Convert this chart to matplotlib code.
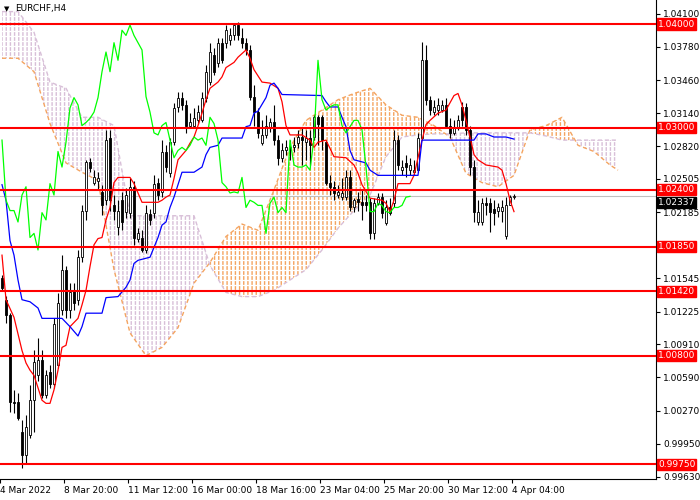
import numpy as np
import matplotlib
matplotlib.use('Agg')
import matplotlib.pyplot as plt
from matplotlib.path import Path

# EURCHF H4 candles (open, high, low, close)
opens = [1.0155, 1.0134, 1.0119, 1.0035, 1.0035, 1.0006, 0.9984, 1.0003, 1.0037, 1.0061,
         1.0076, 1.0042, 1.0064, 1.0053, 1.0071, 1.0124, 1.0163, 1.0124, 1.0143, 1.0134,
         1.0175, 1.0220, 1.0267, 1.0247, 1.0249, 1.0238, 1.0230, 1.0290, 1.0225, 1.0204,
         1.0230, 1.0219, 1.0218, 1.0243, 1.0193, 1.0194, 1.0182, 1.0217, 1.0218, 1.0247,
         1.0238, 1.0277, 1.0256, 1.0286, 1.0320, 1.0329, 1.0322, 1.0302, 1.0302, 1.0307,
         1.0307, 1.0329, 1.0344, 1.0370, 1.0362, 1.0382, 1.0382, 1.0385, 1.0389, 1.0399,
         1.0387, 1.0382, 1.0375, 1.0330, 1.0315, 1.0285, 1.0293, 1.0300, 1.0305, 1.0288,
         1.0271, 1.0278, 1.0281, 1.0281, 1.0285, 1.0291, 1.0286, 1.0290, 1.0291, 1.0310,
         1.0310, 1.0286, 1.0247, 1.0243, 1.0235, 1.0233, 1.0233, 1.0252, 1.0223, 1.0231,
         1.0228, 1.0228, 1.0228, 1.0198, 1.0227, 1.0233, 1.0208, 1.0223, 1.0227, 1.0288,
         1.0259, 1.0266, 1.0259, 1.0257, 1.0259, 1.0290, 1.0365, 1.0327, 1.0315, 1.0317,
         1.0317, 1.0322, 1.0302, 1.0295, 1.0301, 1.0320, 1.0320, 1.0298, 1.0262, 1.0209,
         1.0209, 1.0227, 1.0227, 1.0222, 1.0220, 1.0220, 1.0195, 1.0225, 1.0233]
highs = [1.0158, 1.0138, 1.0121, 1.0047, 1.0044, 1.0018, 1.0023, 1.0052, 1.0085, 1.0097,
         1.0085, 1.0066, 1.0071, 1.0116, 1.0140, 1.0177, 1.0167, 1.0150, 1.0150, 1.0182,
         1.0225, 1.0269, 1.0271, 1.0259, 1.0257, 1.0245, 1.0298, 1.0298, 1.0235, 1.0230,
         1.0238, 1.0242, 1.0251, 1.0249, 1.0203, 1.0201, 1.0225, 1.0222, 1.0254, 1.0251,
         1.0288, 1.0283, 1.0290, 1.0324, 1.0334, 1.0334, 1.0327, 1.0314, 1.0319, 1.0322,
         1.0334, 1.0360, 1.0382, 1.0377, 1.0387, 1.0387, 1.0399, 1.0396, 1.0401, 1.0402,
         1.0396, 1.0387, 1.0380, 1.0341, 1.0319, 1.0307, 1.0312, 1.0309, 1.0322, 1.0293,
         1.0285, 1.0288, 1.0288, 1.0291, 1.0298, 1.0300, 1.0298, 1.0298, 1.0312, 1.0312,
         1.0312, 1.0288, 1.0254, 1.0249, 1.0245, 1.0251, 1.0259, 1.0259, 1.0232, 1.0238,
         1.0240, 1.0235, 1.0232, 1.0232, 1.0237, 1.0237, 1.0230, 1.0232, 1.0298, 1.0293,
         1.0269, 1.0274, 1.0271, 1.0269, 1.0295, 1.0383, 1.0380, 1.0331, 1.0327, 1.0329,
         1.0327, 1.0329, 1.0309, 1.0307, 1.0312, 1.0325, 1.0324, 1.0302, 1.0269, 1.0230,
         1.0232, 1.0233, 1.0232, 1.0230, 1.0227, 1.0230, 1.0233, 1.0235, 1.0236]
lows = [1.0143, 1.0112, 1.0026, 1.0025, 1.0018, 0.9972, 0.9976, 1.0001, 1.0006, 1.0056,
        1.0039, 1.0039, 1.0049, 1.0049, 1.0068, 1.0119, 1.0116, 1.0116, 1.0124, 1.0129,
        1.0170, 1.0211, 1.0257, 1.0245, 1.0240, 1.0216, 1.0225, 1.0220, 1.0211, 1.0196,
        1.0201, 1.0213, 1.0213, 1.0187, 1.0190, 1.0180, 1.0179, 1.0206, 1.0213, 1.0230,
        1.0233, 1.0257, 1.0252, 1.0283, 1.0315, 1.0317, 1.0295, 1.0300, 1.0300, 1.0304,
        1.0305, 1.0325, 1.0341, 1.0351, 1.0359, 1.0362, 1.0377, 1.0380, 1.0385, 1.0385,
        1.0377, 1.0370, 1.0327, 1.0302, 1.0290, 1.0283, 1.0290, 1.0296, 1.0283, 1.0264,
        1.0267, 1.0274, 1.0269, 1.0277, 1.0280, 1.0264, 1.0269, 1.0264, 1.0288, 1.0283,
        1.0278, 1.0245, 1.0235, 1.0230, 1.0232, 1.0230, 1.0230, 1.0220, 1.0219, 1.0220,
        1.0211, 1.0220, 1.0193, 1.0193, 1.0225, 1.0213, 1.0206, 1.0216, 1.0223, 1.0259,
        1.0254, 1.0252, 1.0254, 1.0254, 1.0257, 1.0288, 1.0322, 1.0312, 1.0312, 1.0312,
        1.0315, 1.0300, 1.0290, 1.0293, 1.0298, 1.0302, 1.0293, 1.0254, 1.0209, 1.0206,
        1.0206, 1.0216, 1.0199, 1.0206, 1.0214, 1.0209, 1.0193, 1.0225, 1.0231]
closes = [1.0145, 1.0119, 1.0035, 1.0034, 1.0020, 0.9984, 1.0011, 1.0037, 1.0074, 1.0076,
          1.0042, 1.0061, 1.0053, 1.0111, 1.0131, 1.0163, 1.0124, 1.0141, 1.0131, 1.0175,
          1.0220, 1.0267, 1.0261, 1.0252, 1.0251, 1.0225, 1.0288, 1.0230, 1.0220, 1.0220,
          1.0209, 1.0235, 1.0243, 1.0194, 1.0198, 1.0182, 1.0218, 1.0211, 1.0246, 1.0235,
          1.0277, 1.0262, 1.0286, 1.0319, 1.0329, 1.0322, 1.0302, 1.0305, 1.0309, 1.0315,
          1.0329, 1.0354, 1.0373, 1.0354, 1.0382, 1.0365, 1.0394, 1.0389, 1.0399, 1.0389,
          1.0382, 1.0375, 1.0330, 1.0315, 1.0295, 1.0293, 1.0302, 1.0305, 1.0288, 1.0271,
          1.0278, 1.0281, 1.0278, 1.0283, 1.0291, 1.0288, 1.0290, 1.0283, 1.0310, 1.0304,
          1.0288, 1.0247, 1.0243, 1.0237, 1.0238, 1.0237, 1.0252, 1.0223, 1.0230, 1.0228,
          1.0225, 1.0225, 1.0198, 1.0227, 1.0233, 1.0218, 1.0223, 1.0218, 1.0288, 1.0264,
          1.0262, 1.0262, 1.0264, 1.0259, 1.0290, 1.0365, 1.0327, 1.0317, 1.0320, 1.0322,
          1.0322, 1.0302, 1.0295, 1.0301, 1.0307, 1.0307, 1.0298, 1.0262, 1.0219, 1.0219,
          1.0227, 1.0225, 1.0219, 1.0218, 1.0223, 1.0223, 1.0225, 1.0233, 1.02337]

# Ichimoku lines, read at their turning points (bar index, price)
tenkan_bars = [0, 1, 3, 5, 6, 7, 8, 10, 11, 12, 13, 14, 15, 16, 17, 18, 19, 20, 21, 22,
               23, 24, 25, 26, 27, 28, 29, 32, 33, 35, 39, 40, 41, 42, 43, 44, 46, 47, 48, 49,
               50, 51, 52, 54, 55, 56, 58, 59, 61, 62, 63, 65, 67, 69, 70, 71, 72, 75, 77, 78,
               79, 81, 83, 86, 88, 89, 90, 92, 95, 96, 97, 98, 99, 102, 103, 105, 106, 107, 109, 111,
               112, 113, 114, 115, 116, 117, 118, 119, 121, 124, 125, 126, 127, 128]
tenkan = [1.0177, 1.0134, 1.0117, 1.0085, 1.0073, 1.0066, 1.0061, 1.0037, 1.0034, 1.0034,
          1.0047, 1.0066, 1.0088, 1.0090, 1.0108, 1.0112, 1.0116, 1.0129, 1.0143, 1.0166,
          1.0187, 1.0193, 1.0194, 1.0211, 1.0223, 1.0247, 1.0252, 1.0252, 1.0246, 1.0228,
          1.0228, 1.0230, 1.0233, 1.0235, 1.0251, 1.0269, 1.0278, 1.0285, 1.0291, 1.0302,
          1.0314, 1.0327, 1.0338, 1.0344, 1.0349, 1.0358, 1.0363, 1.0368, 1.0375, 1.0367,
          1.0356, 1.0344, 1.0343, 1.0338, 1.0325, 1.0302, 1.0293, 1.0293, 1.0288, 1.0281,
          1.0286, 1.0288, 1.0272, 1.0271, 1.0264, 1.0256, 1.0245, 1.0232, 1.0230, 1.0227,
          1.0219, 1.0230, 1.0246, 1.0246, 1.0254, 1.0288, 1.0303, 1.0307, 1.0314, 1.0317,
          1.0324, 1.0331, 1.0333, 1.0322, 1.0307, 1.0291, 1.0274, 1.0269, 1.0264, 1.0262,
          1.0259, 1.0246, 1.0230, 1.0219]

kijun_bars = [0, 1, 2, 3, 4, 5, 7, 9, 10, 15, 17, 19, 20, 21, 25, 26, 29, 31, 32, 33,
              34, 37, 39, 40, 41, 42, 43, 44, 45, 48, 50, 51, 52, 54, 55, 60, 61, 62, 63, 64,
              66, 67, 68, 69, 70, 80, 81, 82, 84, 85, 86, 87, 88, 91, 92, 94, 104, 105, 118, 119,
              121, 123, 126, 128]
kijun = [1.0245, 1.0230, 1.0191, 1.0177, 1.0153, 1.0134, 1.0132, 1.0126, 1.0116, 1.0116,
         1.0108, 1.0099, 1.0108, 1.0121, 1.0121, 1.0136, 1.0137, 1.0146, 1.0153, 1.0169,
         1.0172, 1.0175, 1.0194, 1.0206, 1.0209, 1.0223, 1.0233, 1.0245, 1.0257, 1.0257,
         1.0262, 1.0274, 1.0281, 1.0283, 1.0290, 1.0290, 1.0301, 1.0302, 1.0314, 1.0316,
         1.0329, 1.0341, 1.0343, 1.0338, 1.0332, 1.0331, 1.0325, 1.0320, 1.0320, 1.0310,
         1.0301, 1.0278, 1.0269, 1.0266, 1.0259, 1.0254, 1.0254, 1.0288, 1.0288, 1.0294,
         1.0294, 1.0291, 1.0291, 1.0289]

# cloud edges (Senkou Span A / B), shifted 26 bars ahead
cloud_bars = [0, 4, 8, 12, 16, 20, 24, 28, 32, 36, 40, 44, 48, 52, 56, 60, 64, 68, 72, 76,
              80, 84, 88, 92, 96, 100, 104, 108, 112, 116, 120, 124, 128, 132, 136, 140, 144, 148, 152, 154]
span_a = [1.0367, 1.0367, 1.0354, 1.0304, 1.0266, 1.0257, 1.0249, 1.0163, 1.0102, 1.0080,
          1.0088, 1.0107, 1.0150, 1.0170, 1.0195, 1.0207, 1.0201, 1.0240, 1.0281, 1.0307,
          1.0317, 1.0327, 1.0333, 1.0338, 1.0322, 1.0312, 1.0310, 1.0302, 1.0291, 1.0256,
          1.0247, 1.0243, 1.0254, 1.0298, 1.0302, 1.0310, 1.0283, 1.0277, 1.0264, 1.0259]
span_b = [1.0412, 1.0412, 1.0392, 1.0344, 1.0338, 1.0310, 1.0310, 1.0302, 1.0215, 1.0215,
          1.0215, 1.0215, 1.0215, 1.0167, 1.0141, 1.0137, 1.0137, 1.0143, 1.0153, 1.0163,
          1.0182, 1.0203, 1.0220, 1.0235, 1.0272, 1.0291, 1.0293, 1.0294, 1.0294, 1.0295,
          1.0295, 1.0295, 1.0295, 1.0295, 1.0292, 1.0288, 1.0288, 1.0288, 1.0288, 1.0288]

levels = [1.0400, 1.0300, 1.0240, 1.0185, 1.0142, 1.0080, 0.9975]
last_price = 1.02337
price_ticks = [0.99630, 0.99950, 1.00270, 1.00590, 1.00910, 1.01225, 1.01545, 1.01865,
               1.02185, 1.02505, 1.02820, 1.03140, 1.03460, 1.03780, 1.04100]
date_labels = ['4 Mar 2022', '8 Mar 20:00', '11 Mar 12:00', '16 Mar 00:00', '18 Mar 16:00',
               '23 Mar 04:00', '25 Mar 20:00', '30 Mar 12:00', '4 Apr 04:00']

o = np.array(opens)
h = np.array(highs)
l = np.array(lows)
c = np.array(closes)
bars = np.arange(len(c))
ca = np.array(span_a)
cb = np.array(span_b)

plt.rcParams['font.family'] = 'DejaVu Sans'
plt.rcParams['hatch.linewidth'] = 1.0

fig = plt.figure(figsize=(7, 5), dpi=100)
ax = fig.add_axes([0, 21 / 500, 656 / 700, 479 / 500])
ax.set_xlim(-0.5, 163.5)
ax.set_ylim(0.99610, 1.04232)

# cloud: vertical hatching, broken into dashes by thin white stripes
with plt.rc_context({'hatch.color': '#F4A460'}):
    up = ax.fill_between(cloud_bars, ca, cb, where=ca >= cb, interpolate=True,
                         facecolor='none', edgecolor='#F4A460', hatch='||||', linewidth=0, zorder=1)
with plt.rc_context({'hatch.color': '#D8BFD8'}):
    dn = ax.fill_between(cloud_bars, ca, cb, where=ca < cb, interpolate=True,
                         facecolor='none', edgecolor='#D8BFD8', hatch='||||', linewidth=0, zorder=1)
clip = Path.make_compound_path(*(list(up.get_paths()) + list(dn.get_paths())))
gaps = np.arange(0.99610, 1.04232, 0.00048)
stripes = ax.hlines(gaps, -0.5, 163.5, colors='white', linewidth=0.9, zorder=1.1)
stripes.set_clip_path(clip, ax.transData)
ax.plot(cloud_bars, ca, color='#F4A460', lw=1.0, ls=(0, (3, 2)), zorder=1.5)
ax.plot(cloud_bars, cb, color='#D8BFD8', lw=1.0, ls=(0, (3, 2)), zorder=1.5)

# candles
ax.vlines(bars, l, h, color='black', lw=0.8, zorder=3)
body = np.maximum(np.abs(c - o), 0.00003)
ax.bar(bars, body, bottom=np.minimum(o, c), width=0.7,
       color=np.where(c >= o, 'white', 'black'), edgecolor='black', linewidth=0.6, zorder=4)

# ichimoku lines
ax.plot(tenkan_bars, tenkan, color='red', lw=0.9, zorder=5)
ax.plot(kijun_bars, kijun, color='blue', lw=0.9, zorder=5)
ax.plot(bars[:-26], c[26:], color='#00FF00', lw=0.9, zorder=5)

# levels
ax.axhline(last_price, color='#C0C0C0', lw=0.8, zorder=2)
for lv in levels:
    ax.axhline(lv, color='red', lw=1.5, zorder=6)

for s in ['top', 'left']:
    ax.spines[s].set_visible(False)
ax.spines['right'].set_linewidth(0.8)
ax.spines['bottom'].set_linewidth(0.8)

# 1.01865 sits under the 1.01850 box in the reference, so its label stays empty
ax.yaxis.tick_right()
ax.set_yticks(price_ticks)
ax.set_yticklabels(['' if abs(v - 1.01865) < 1e-6 else f'{v:.5f}' for v in price_ticks])
ax.tick_params(axis='y', length=3, width=0.8, pad=2, labelsize=6.5)

ax.set_xticks(np.arange(len(date_labels)) * 16 - 0.5)
ax.set_xticklabels(date_labels)
ax.tick_params(axis='x', length=3, width=0.8, pad=2, labelsize=6.5)
for t in ax.get_xticklabels():
    t.set_ha('left')

ytr = ax.get_yaxis_transform()
# current price box, nudged down a little so it peeks out below the 1.02400 box
ax.annotate(f'{last_price:.5f}', xy=(1.003, last_price), xycoords=ytr,
            xytext=(0, -4.5), textcoords='offset points', fontsize=6.5, color='white',
            va='center', ha='left', zorder=9, annotation_clip=False,
            bbox=dict(boxstyle='square,pad=0.12', fc='black', ec='black'))
for lv in levels:
    ax.text(1.003, lv, f'{lv:.5f}', transform=ytr, fontsize=6.5, color='white',
            va='center', ha='left', zorder=10, clip_on=False,
            bbox=dict(boxstyle='square,pad=0.12', fc='red', ec='red'))

fig.text(4 / 700, 1 - 9 / 500, '\u25bc', fontsize=5, va='center')
fig.text(15 / 700, 1 - 9 / 500, 'EURCHF,H4', fontsize=6.5, va='center')

fig.savefig('out.png', dpi=100)
